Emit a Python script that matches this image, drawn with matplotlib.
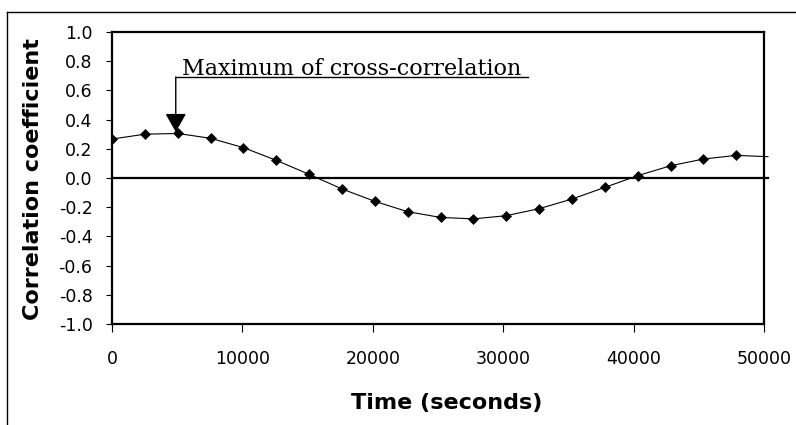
import matplotlib
matplotlib.use('Agg')
import matplotlib.pyplot as plt
import numpy as np
from matplotlib.lines import Line2D

plt.rcParams['axes.unicode_minus'] = False
plt.rcParams['font.family'] = ['DejaVu Sans']

# 数据
time_s = [0, 2520, 5040, 7560, 10080, 12600, 15120, 17640, 20160, 22680,
          25200, 27720, 30240, 32760, 35280, 37800, 40320, 42840, 45360, 47880]
corr = [0.267, 0.300, 0.305, 0.272, 0.208, 0.121, 0.025, -0.075, -0.160, -0.231,
        -0.270, -0.280, -0.258, -0.210, -0.144, -0.064, 0.016, 0.084, 0.130, 0.155]
# 曲线尾部（没有标记点）
tail_time = [50300]
tail_corr = [0.146]

yticks = [-1.0, -0.8, -0.6, -0.4, -0.2, 0.0, 0.2, 0.4, 0.6, 0.8, 1.0]
xticks = [0, 10000, 20000, 30000, 40000, 50000]
note = 'Maximum of cross-correlation'

fig = plt.figure(figsize=(7.96, 4.25), dpi=100)
ax = fig.add_axes([112/796, 1-324/425, 652/796, 292/425])

ax.plot(time_s + tail_time, corr + tail_corr, color='black', lw=0.8, clip_on=False, zorder=3)
ax.plot(time_s, corr, ls='none', marker='D', ms=5, color='black', mec='black', mew=0.5, zorder=4)

ax.axhline(0, xmin=0, xmax=1.006, color='black', lw=1.6, clip_on=False, zorder=2)

ax.set_xlim(0, 50000)
ax.set_ylim(-1.0, 1.0)
ax.set_xticks(xticks)
ax.set_yticks(yticks)
ax.set_xticklabels([str(v) for v in xticks])
ax.set_yticklabels(['%.1f' % v for v in yticks])
ax.tick_params(axis='y', direction='out', length=4, width=0.8, pad=10, labelsize=12.5)
ax.tick_params(axis='x', direction='out', length=6, width=0.8, pad=13, labelsize=12.5)
for s in ax.spines.values():
    s.set_linewidth(1.6)

# 标注：最大互相关
peak = int(np.argmax(corr))
ax.annotate('', xy=(time_s[peak] - 150, corr[peak] + 0.01), xytext=(time_s[peak] - 150, 0.692),
            arrowprops=dict(arrowstyle='-|>,head_width=0.65,head_length=1.15', color='black', lw=1.0,
                            shrinkA=0, shrinkB=0))
ax.plot([time_s[peak] - 150, 31900], [0.692, 0.692], color='black', lw=1.0)
ax.text(5370, 0.705, note, family='DejaVu Serif', fontsize=16, ha='left', va='baseline')

fig.text(33/796, 1-179.5/425, 'Correlation coefficient', rotation=90, ha='center', va='center',
         fontsize=16, fontweight='bold')
fig.text(447/796, 1-409/425, 'Time (seconds)', ha='center', va='baseline',
         fontsize=16, fontweight='bold')

# 外框
fig.add_artist(Line2D([7/796, 1], [1-12/425, 1-12/425], color='black', lw=1.0))
fig.add_artist(Line2D([7/796, 7/796], [0, 1-12/425], color='black', lw=1.0))

fig.savefig('out.png', dpi=100)
